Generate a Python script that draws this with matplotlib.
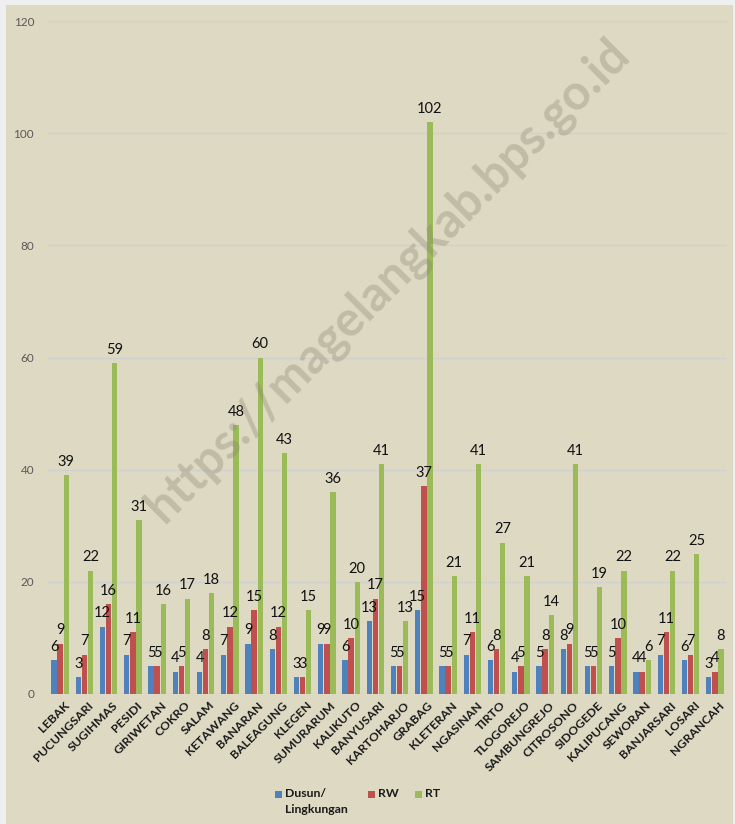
import matplotlib
matplotlib.use("Agg")
import matplotlib.pyplot as plt
import numpy as np
from matplotlib.patches import Rectangle

categories = ["LEBAK", "PUCUNGSARI", "SUGIHMAS", "PESIDI", "GIRIWETAN", "COKRO",
              "SALAM", "KETAWANG", "BANARAN", "BALEAGUNG", "KLEGEN", "SUMURARUM",
              "KALIKUTO", "BANYUSARI", "KARTOHARJO", "GRABAG", "KLETERAN", "NGASINAN",
              "TIRTO", "TLOGOREJO", "SAMBUNGREJO", "CITROSONO", "SIDOGEDE",
              "KALIPUCANG", "SEWORAN", "BANJARSARI", "LOSARI", "NGRANCAH"]
dusun = [6, 3, 12, 7, 5, 4, 4, 7, 9, 8, 3, 9, 6, 13, 5, 15, 5, 7, 6, 4, 5, 8, 5, 5, 4, 7, 6, 3]
rw = [9, 7, 16, 11, 5, 5, 8, 12, 15, 12, 3, 9, 10, 17, 5, 37, 5, 11, 8, 5, 8, 9, 5, 10, 4, 11, 7, 4]
rt = [39, 22, 59, 31, 16, 17, 18, 48, 60, 43, 15, 36, 20, 41, 13, 102, 21, 41, 27, 21, 14, 41, 19, 22, 6, 22, 25, 8]
series_names = ["Dusun/\nLingkungan", "RW", "RT"]
yticks = [0, 20, 40, 60, 80, 100, 120]

colors = ["#4f81bd", "#c0504d", "#9bbb59"]
bg = "#ddd9c3"
font = ["Lato", "DejaVu Sans"]
plt.rcParams["font.family"] = font

W, H = 735, 824
fig = plt.figure(figsize=(W / 100, H / 100), dpi=100, facecolor=bg)
# light border strips (top, left, right)
for (x0, y0, w0, h0) in [(0, 1 - 5 / H, 1, 5 / H), (0, 0, 6 / W, 1), (1 - 2 / W, 0, 2 / W, 1)]:
    fig.patches.append(Rectangle((x0, y0), w0, h0, transform=fig.transFigure,
                                 facecolor="#efefef", edgecolor="none", zorder=-5))

ax = fig.add_axes([48 / W, (H - 694) / H, (727 - 48) / W, (694 - 21) / H])
ax.set_facecolor(bg)

x = np.arange(len(categories))
w = 0.22
offs = [-0.25, 0, 0.25]
for data, off, c in zip([dusun, rw, rt], offs, colors):
    ax.bar(x + off, data, width=w, color=c, zorder=3, edgecolor="none")
    for xi, v in zip(x, data):
        ax.annotate(str(v), (xi + off, v), xytext=(0, 4.5), textcoords="offset points",
                    ha="center", va="bottom", fontsize=10.5, color="#111111", zorder=5)

ax.set_ylim(0, 120)
ax.set_xlim(-0.5, len(categories) - 0.5)
ax.set_yticks(yticks)
ax.set_yticklabels([str(t) for t in yticks], fontsize=8.5, color="#595959")
ax.grid(axis="y", color="#d0d0d0", linewidth=1, zorder=0)
ax.tick_params(axis="y", length=0, pad=10)
ax.tick_params(axis="x", length=0, pad=4)
for s in ax.spines.values():
    s.set_visible(False)

ax.set_xticks(x + 0.15)
ax.set_xticklabels(categories, rotation=45, ha="right", rotation_mode="anchor",
                   fontsize=8.8, fontweight="bold", color="#1a1a1a")

# legend (manual layout to keep swatches aligned with the first text line)
leg_items = [(275, series_names[0]), (368, series_names[1]), (415, series_names[2])]
for (px, label), c in zip(leg_items, colors):
    fig.patches.append(Rectangle((px / W, 1 - 798 / H), 7 / W, 7 / H, transform=fig.transFigure,
                                 facecolor=c, edgecolor="none"))
    fig.text((px + 10) / W, 1 - 788 / H, label, ha="left", va="top", fontsize=8.8,
             fontweight="bold", color="#1a1a1a", linespacing=1.6)

fig.text(388 / W, 1 - 280 / H, "https://magelangkab.bps.go.id", rotation=45,
         ha="center", va="center", fontsize=35, fontweight="bold",
         color="#8a8570", alpha=0.35, zorder=10)

fig.savefig("out.png", dpi=100, facecolor=fig.get_facecolor())
